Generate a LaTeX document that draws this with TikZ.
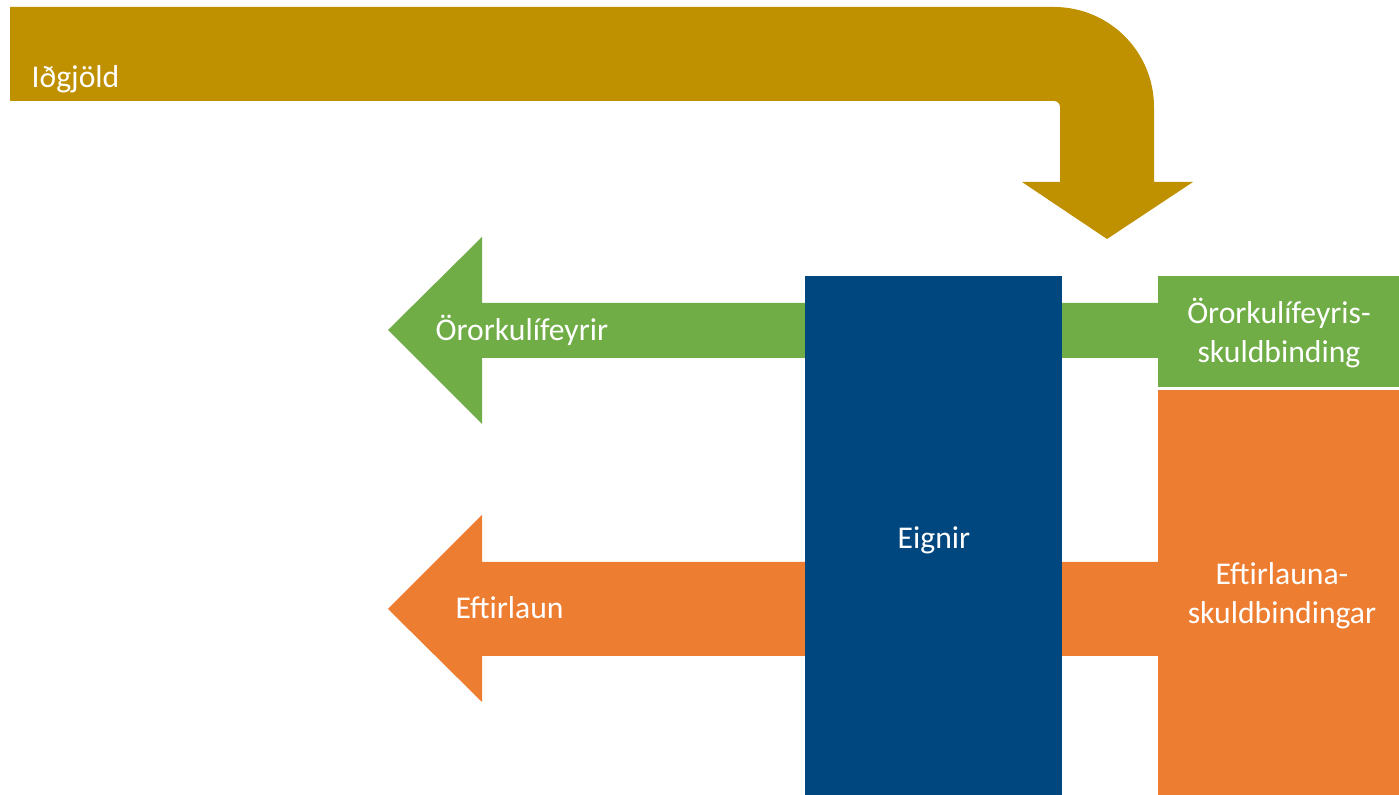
\documentclass[tikz,border=0pt]{standalone}
\usepackage{fontspec}
\setmainfont{Carlito}
\usepackage{xcolor}
\usepackage{tikz}
\definecolor{gold}{HTML}{BF9000}
\definecolor{leaf}{HTML}{70AD47}
\definecolor{ember}{HTML}{ED7D31}
\definecolor{navy}{HTML}{00467F}
\tikzset{
  band/.style={line width=0pt},
  lab/.style={text=white, font=\fontsize{9}{11}\selectfont, inner sep=0pt},
  labc/.style={lab, align=center}
}

\begin{document}
\begin{tikzpicture}[x=0.01cm, y=0.01cm]
  \useasboundingbox (0,0) rectangle (1399,-795);
  % premium inflow
  \fill[gold] (10,-7) -- (1054,-7) arc (90:0:100) -- (1154,-182) -- (1193,-182)
    -- (1107,-239) -- (1022,-182) -- (1060,-182) -- (1060,-107) arc (0:90:6)
    -- (10,-101) -- cycle;
  % outflows
  \fill[leaf] (1158,-303) -- (482,-303) -- (482,-237) -- (388,-330)
    -- (482,-424) -- (482,-358) -- (1158,-358) -- cycle;
  \fill[ember] (1158,-562) -- (482,-562) -- (482,-515) -- (388,-609)
    -- (482,-702) -- (482,-656) -- (1158,-656) -- cycle;
  % balance
  \fill[navy] (805,-276) rectangle (1062,-795);
  \fill[leaf] (1158,-276) rectangle (1399,-387);
  \fill[ember] (1158,-390) rectangle (1399,-795);
  \node[lab, anchor=base west] (prem) at (31,-88) {Iðgjöld};
  \node[lab, anchor=base west] (disab) at (435,-341) {Örorkulífeyrir};
  \node[lab, anchor=base west] (retir) at (455,-619) {Eftirlaun};
  \node[lab, anchor=base] (assets) at (934,-549) {Eignir};
  \node[labc] (disabl) at (1279,-333) {Örorkulífeyris-\\skuldbinding};
  \node[labc] (retirl) at (1282,-596) {Eftirlauna-\\skuldbindingar};
\end{tikzpicture}
\end{document}
